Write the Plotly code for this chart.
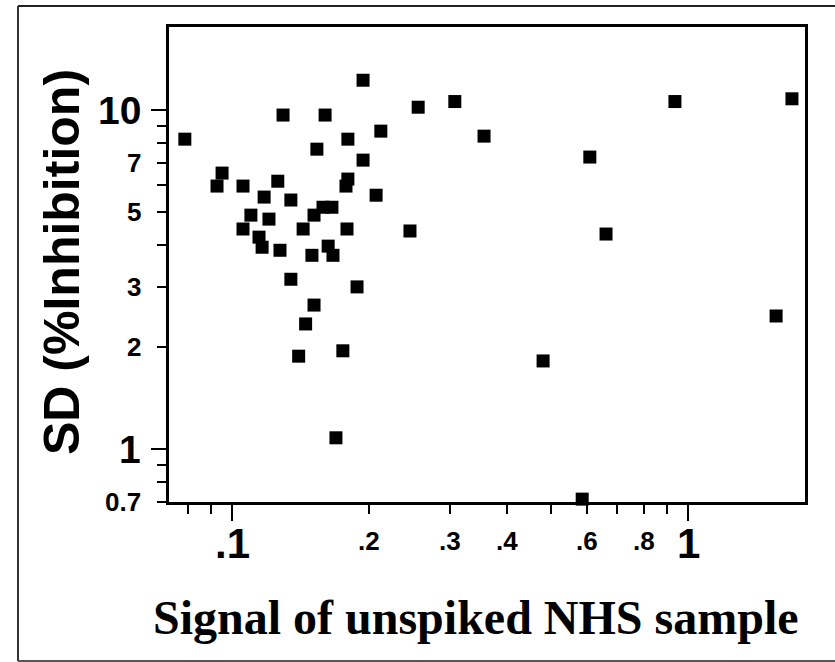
import plotly.graph_objects as go
import math

# Data: signal of unspiked NHS sample vs SD (%Inhibition)
signal = [0.0788, 0.0927, 0.0951, 0.1057, 0.1057, 0.110, 0.1146, 0.1164, 0.1176, 0.1205,
          0.126, 0.1274, 0.1294, 0.1346, 0.1346, 0.1432, 0.1497, 0.1513, 0.1535, 0.160,
          0.1583, 0.1656, 0.1625, 0.1665, 0.1787, 0.1778, 0.1795, 0.1795, 0.188, 0.1938,
          0.1938, 0.207, 0.212, 0.2456, 0.256, 0.308, 0.357, 0.609, 0.936, 1.69,
          0.661, 1.56, 0.1513, 0.145, 0.140, 0.175, 0.169, 0.481, 0.586]
sd_inhib = [8.21, 5.97, 6.52, 5.97, 4.46, 4.90, 4.22, 3.94, 5.54, 4.77,
            6.17, 3.86, 9.67, 5.43, 3.17, 4.46, 3.73, 4.90, 7.67, 9.67,
            5.17, 5.17, 3.97, 3.73, 4.46, 5.97, 6.26, 8.21, 3.01, 7.12,
            12.25, 5.61, 8.67, 4.40, 10.2, 10.6, 8.38, 7.27, 10.6, 10.8,
            4.31, 2.47, 2.66, 2.34, 1.88, 1.95, 1.08, 1.82, 0.712]

# Axis ticks
x_small_vals = [0.2, 0.3, 0.4, 0.6, 0.8]
x_small_text = [".2", ".3", ".4", ".6", ".8"]
x_big_vals = [0.1, 1]
x_big_text = [".1", "1"]
x_minor_vals = [0.08, 0.09, 0.5, 0.7, 0.9]

y_small_vals = [0.7, 2, 3, 5, 7]
y_small_text = ["0.7", "2", "3", "5", "7"]
y_big_vals = [1, 10]
y_big_text = ["1", "10"]
y_minor_vals = [0.8, 0.9, 4, 6, 8, 9]

x_range = [-1.1382, 0.2565]
y_range = [-0.1560, 1.2452]

W, H = 835, 662
ML, MR, MT, MB = 169, 30, 27, 160
PW, PH = W - ML - MR, H - MT - MB


def px_to_paper(px, py):
    return (px - ML) / PW, (H - MB - py) / PH


sans = "Liberation Sans"
serif = "Liberation Serif"

fig = go.Figure()
fig.add_trace(go.Scatter(
    x=signal, y=sd_inhib, mode="markers",
    marker=dict(symbol="square", size=13, color="black", line=dict(width=0)),
    cliponaxis=False, showlegend=False, hoverinfo="x+y"))
# empty trace to hold the overlay axes (long ticks at major values)
fig.add_trace(go.Scatter(x=[], y=[], xaxis="x2", yaxis="y2", showlegend=False))

fig.update_layout(
    width=W, height=H,
    margin=dict(l=ML, r=MR, t=MT, b=MB),
    paper_bgcolor="white", plot_bgcolor="white",
    font=dict(family=sans),
    xaxis=dict(
        type="log", range=x_range, showgrid=False, zeroline=False,
        showline=True, linecolor="black", linewidth=2.5, mirror=True,
        tickmode="array", tickvals=x_small_vals, showticklabels=False,
        ticks="outside", ticklen=9, tickwidth=2, tickcolor="black",
        minor=dict(tickmode="array", tickvals=x_minor_vals, ticks="outside",
                   ticklen=9, tickwidth=2, tickcolor="black", showgrid=False),
    ),
    xaxis2=dict(
        type="log", range=x_range, overlaying="x", anchor="y", side="bottom",
        showgrid=False, zeroline=False, showline=False,
        tickmode="array", tickvals=x_big_vals, showticklabels=False,
        ticks="outside", ticklen=18, tickwidth=2, tickcolor="black",
    ),
    yaxis=dict(
        type="log", range=y_range, showgrid=False, zeroline=False,
        showline=True, linecolor="black", linewidth=2.5, mirror=True,
        tickmode="array", tickvals=y_small_vals, showticklabels=False,
        ticks="outside", ticklen=9, tickwidth=2, tickcolor="black",
        minor=dict(tickmode="array", tickvals=y_minor_vals, ticks="outside",
                   ticklen=9, tickwidth=2, tickcolor="black", showgrid=False),
    ),
    yaxis2=dict(
        type="log", range=y_range, overlaying="y", anchor="x", side="left",
        showgrid=False, zeroline=False, showline=False,
        tickmode="array", tickvals=y_big_vals, showticklabels=False,
        ticks="outside", ticklen=17, tickwidth=2, tickcolor="black",
    ),
)

# tick labels placed on the axes' own scales
lab_x_right, _ = px_to_paper(143, 0)
for vals, texts, size in ((y_small_vals, y_small_text, 26), (y_big_vals, y_big_text, 39)):
    for v, t in zip(vals, texts):
        fig.add_annotation(text=t, xref="paper", x=lab_x_right, yref="y", y=math.log10(v),
                           xanchor="right", yanchor="middle", showarrow=False,
                           font=dict(family=sans, size=size, color="black", weight="bold"))
for vals, texts, size, ypx in ((x_small_vals, x_small_text, 26, 541),
                               (x_big_vals, x_big_text, 42, 543)):
    _, yy = px_to_paper(0, ypx)
    for v, t in zip(vals, texts):
        fig.add_annotation(text=t, xref="x", x=math.log10(v), yref="paper", y=yy,
                           xanchor="center", yanchor="middle", showarrow=False,
                           font=dict(family=sans, size=size, color="black", weight="bold"))

# axis titles as annotations
tx, ty = px_to_paper(62, 262)
fig.add_annotation(text="SD (%Inhibition)", x=tx, y=ty, xref="paper", yref="paper",
                   textangle=-90, showarrow=False, xanchor="center", yanchor="middle",
                   font=dict(family=sans, size=50, color="black", weight="bold"))
tx, ty = px_to_paper(476, 617)
fig.add_annotation(text="Signal of unspiked NHS sample", x=tx, y=ty, xref="paper", yref="paper",
                   showarrow=False, xanchor="center", yanchor="middle",
                   font=dict(family=serif, size=48, color="black", weight="bold"))

# outer frame (left, top, bottom edges; right edge lies outside the picture)
lx, by = px_to_paper(18, 661)
rx, ty_ = px_to_paper(835, 6)
fig.add_shape(type="line", xref="paper", yref="paper", x0=lx, y0=by, x1=lx, y1=ty_,
              line=dict(color="#333333", width=2))
fig.add_shape(type="line", xref="paper", yref="paper", x0=lx, y0=ty_, x1=rx, y1=ty_,
              line=dict(color="#222222", width=2))
fig.add_shape(type="line", xref="paper", yref="paper", x0=lx, y0=by, x1=rx, y1=by,
              line=dict(color="#555555", width=2))

fig.write_html("out.html")
